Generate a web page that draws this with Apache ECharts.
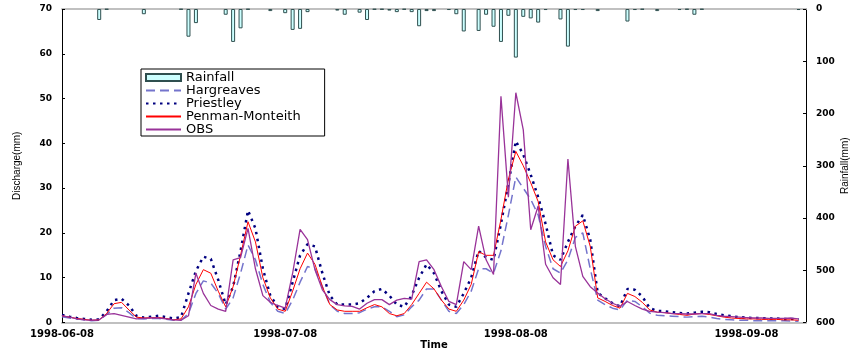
<!DOCTYPE html>
<html>
<head>
<meta charset="utf-8">
<script src="https://cdn.jsdelivr.net/npm/echarts@6/dist/echarts.min.js"></script>
<style>
  html, body { margin: 0; padding: 0; background: #fff; }
  #chart { width: 851px; height: 353px; }
</style>
</head>
<body>
<div id="chart"></div>
<script>
// Daily dates, 1998-06-08 .. 1998-09-16
const startDate = '1998-06-08';
const dayCount = 101;
const tickDates = ['1998-06-08', '1998-07-08', '1998-08-08', '1998-09-08'];

// Rainfall (mm) by day index
const rainfall = [
  0, 0, 0, 0, 0, 21, 1, 0, 0, 0,
  0, 10, 0, 0, 0, 0, 1, 53, 27, 0,
  0, 0, 11, 63, 37, 1, 0, 0, 4, 0,
  8, 40, 38, 6, 0, 0, 0, 3, 11, 0,
  7, 21, 1, 1, 3, 6, 1, 6, 33, 4,
  4, 0, 2, 10, 43, 0, 42, 11, 34, 63,
  13, 93, 15, 18, 26, 2, 0, 20, 72, 2,
  2, 0, 4, 0, 0, 0, 24, 2, 1, 0,
  4, 0, 0, 2, 1, 11, 1, 0, 0, 0,
  0, 0, 0, 0, 0, 0, 0, 0, 0, 2,
  0
];

// Discharge (mm)
const hargreaves = [
  1.3, 1.0, 0.8, 0.6, 0.4, 0.5, 1.8, 3.2, 3.3, 2.2,
  0.9, 0.8, 0.9, 0.9, 0.7, 0.5, 0.5, 2.0, 6.5, 9.3,
  8.8, 6.5, 3.0, 5.5, 11, 17.3, 14, 8.5, 4.5, 2.5,
  2.0, 5.0, 9.0, 12.5, 12, 8.0, 4.0, 2.5, 2.0, 2.0,
  2.2, 3.0, 3.5, 3.5, 2.5, 1.3, 1.7, 3.5, 5.0, 7.5,
  7.5, 5.0, 2.5, 2.0, 4.0, 7.0, 12, 12, 11, 16,
  24, 32.5, 30, 27.5, 24, 17, 12, 11, 14, 19,
  20, 12, 5.0, 4.0, 3.2, 2.8, 5.0, 4.7, 3.5, 2.1,
  1.6, 1.5, 1.4, 1.3, 1.2, 1.3, 1.4, 1.2, 0.9, 0.7,
  0.6, 0.5, 0.5, 0.4, 0.4, 0.4, 0.4, 0.4, 0.3, 0.3
];
const priestley = [
  1.7, 1.3, 1.0, 0.8, 0.6, 0.7, 2.5, 5.0, 5.3, 3.8,
  1.5, 1.1, 1.3, 1.5, 1.2, 0.9, 1.2, 6.5, 11.5, 14.7,
  14.2, 9.5, 4.0, 8.0, 16, 25, 21, 12, 6.0, 3.5,
  3.0, 9.0, 15, 17.5, 17, 11, 6.0, 4.0, 4.0, 4.0,
  4.3, 5.5, 7.0, 7.5, 6.0, 4.0, 3.5, 6.0, 10, 13,
  11, 7.0, 4.0, 3.5, 6.5, 10, 16, 14.5, 14, 22,
  31, 40.5, 37.5, 33, 28, 22, 15, 14, 18, 21.5,
  24, 18.5, 6.6, 5.4, 4.3, 3.6, 7.5, 7.3, 5.8, 3.2,
  2.6, 2.5, 2.3, 2.1, 2.0, 2.2, 2.4, 2.3, 1.9, 1.6,
  1.4, 1.2, 1.1, 1.0, 1.0, 0.9, 0.9, 0.8, 0.8, 0.7
];
const penmanMonteith = [
  1.5, 1.2, 0.9, 0.7, 0.5, 0.6, 2.0, 4.2, 4.5, 2.8,
  1.2, 1.0, 1.1, 1.1, 0.9, 0.6, 0.8, 3.5, 8.5, 11.8,
  11, 7.0, 3.5, 8.0, 15, 22.5, 18, 10, 5.5, 3.0,
  2.5, 7.0, 12, 15.5, 13, 8.0, 4.0, 2.8, 2.5, 2.5,
  2.5, 3.3, 4.0, 3.5, 2.0, 1.5, 2.0, 4.0, 6.5, 9.0,
  7.5, 5.0, 3.0, 2.5, 5.0, 8.5, 15.8, 15, 15, 23,
  32, 38.2, 35, 31.2, 27, 18, 14, 12.5, 16, 21.5,
  22.7, 17, 5.5, 4.7, 3.8, 3.2, 6.5, 5.8, 4.5, 2.8,
  2.3, 2.2, 2.0, 1.8, 1.6, 1.9, 2.0, 1.8, 1.5, 1.2,
  1.0, 0.9, 0.8, 0.8, 0.7, 0.7, 0.7, 0.6, 0.6, 0.5
];
const obs = [
  1.5, 1.2, 0.8, 0.6, 0.5, 0.6, 1.8, 2.0, 1.6, 1.2,
  0.8, 0.9, 1.0, 1.0, 0.8, 0.6, 0.5, 1.5, 11, 6.5,
  3.8, 3.0, 2.5, 14, 14.5, 21, 12, 6.0, 4.5, 3.8,
  3.2, 11, 20.8, 18.5, 11.8, 7.3, 5.1, 4.0, 3.7, 3.6,
  3.0, 4.3, 5.1, 5.1, 4.0, 5.0, 5.4, 5.2, 13.6, 14,
  11.8, 8.0, 4.7, 4.0, 13.6, 11.8, 21.5, 14, 10.7, 50.5,
  28, 51.3, 43, 20.7, 26, 13, 10, 8.5, 36.5, 17,
  10.3, 8.0, 6.6, 5.3, 4.3, 3.6, 4.7, 3.8, 3.0, 2.5,
  2.3, 2.2, 2.0, 2.0, 1.9, 1.9, 2.0, 2.0, 1.6, 1.4,
  1.3, 1.2, 1.1, 1.0, 1.0, 0.9, 0.9, 0.9, 1.0, 0.8
];

// build category labels
const dates = [];
const d0 = new Date(startDate + 'T00:00:00Z');
for (let i = 0; i < dayCount; i++) {
  const d = new Date(d0.getTime() + i * 86400000);
  dates.push(d.toISOString().slice(0, 10));
}

const boldLabel = { fontFamily: 'DejaVu Sans', fontWeight: 'bold', fontSize: 9, color: '#000' };
const noSymbol = { opacity: 0 };

const option = {
  animation: false,
  backgroundColor: '#fff',
  grid: { left: 62, right: 45, top: 9, bottom: 30.5, containLabel: false, outerBoundsMode: 'none' },
  legend: {
    orient: 'vertical',
    left: 141,
    top: 69,
    padding: [2, 24, 0, 4],
    itemGap: 0,
    itemWidth: 35,
    itemHeight: 7,
    backgroundColor: '#fff',
    borderColor: '#000',
    borderWidth: 1,
    textStyle: { fontFamily: 'DejaVu Sans', fontSize: 13, lineHeight: 13, color: '#000' },
    data: [
      { name: 'Rainfall', icon: 'rect' },
      { name: 'Hargreaves', itemStyle: noSymbol },
      { name: 'Priestley', itemStyle: noSymbol },
      { name: 'Penman-Monteith', itemStyle: noSymbol },
      { name: 'OBS', itemStyle: noSymbol }
    ]
  },
  xAxis: [{
    type: 'category',
    data: dates,
    boundaryGap: false,
    name: 'Time',
    nameLocation: 'middle',
    nameGap: 18,
    nameMoveOverlap: false,
    nameTextStyle: { fontFamily: 'DejaVu Sans', fontWeight: 'bold', fontSize: 10, color: '#000' },
    axisLine: { lineStyle: { color: '#c0c0c0', width: 2 } },
    axisTick: { show: false },
    axisLabel: {
      interval: (idx, val) => tickDates.includes(val),
      fontFamily: 'DejaVu Sans', fontWeight: 'bold', fontSize: 10, color: '#000', margin: 7
    },
    splitLine: { show: false }
  }, {
    type: 'category',
    data: dates,
    boundaryGap: false,
    position: 'top',
    axisLine: { lineStyle: { color: '#c0c0c0', width: 2 } },
    axisTick: { show: false },
    axisLabel: { show: false },
    splitLine: { show: false }
  }],
  yAxis: [{
    type: 'value',
    min: 0, max: 70, interval: 10,
    name: 'Discharge(mm)',
    nameLocation: 'middle',
    nameGap: 40,
    nameMoveOverlap: false,
    nameTextStyle: { fontFamily: 'Liberation Sans Narrow, Liberation Sans', fontSize: 10, color: '#000' },
    axisLine: { show: true, lineStyle: { color: '#000', width: 1 } },
    axisTick: { show: true, inside: true, length: 3, lineStyle: { color: '#000' } },
    axisLabel: Object.assign({ margin: 10 }, boldLabel),
    splitLine: { show: false }
  }, {
    type: 'value',
    min: 0, max: 600, interval: 100,
    inverse: true,
    position: 'right',
    name: 'Rainfall(mm)',
    nameLocation: 'middle',
    nameGap: 34,
    nameMoveOverlap: false,
    nameTextStyle: { fontFamily: 'Liberation Sans Narrow, Liberation Sans', fontSize: 10, color: '#000' },
    axisLine: { show: true, lineStyle: { color: '#000', width: 1 } },
    axisTick: { show: true, inside: true, length: 3, lineStyle: { color: '#000' } },
    axisLabel: Object.assign({ margin: 10 }, boldLabel),
    splitLine: { show: false }
  }],
  series: [
    {
      name: 'Rainfall',
      type: 'bar',
      yAxisIndex: 1,
      data: rainfall.map(v => (v > 0 ? v : null)),
      barWidth: 4,
      itemStyle: { color: '#ccffff', borderColor: '#2f4f4f', borderWidth: 1 }
    },
    {
      name: 'Hargreaves',
      type: 'line',
      data: hargreaves,
      symbol: 'none',
      lineStyle: { color: '#7474cc', width: 1.5, type: [9, 5] },
      itemStyle: { color: '#7474cc' }
    },
    {
      name: 'Priestley',
      type: 'line',
      data: priestley,
      symbol: 'none',
      lineStyle: { color: '#000080', width: 2.5, type: [2.5, 4.5] },
      itemStyle: { color: '#000080' }
    },
    {
      name: 'Penman-Monteith',
      type: 'line',
      data: penmanMonteith,
      symbol: 'none',
      lineStyle: { color: '#ff0000', width: 1 },
      itemStyle: { color: '#ff0000' }
    },
    {
      name: 'OBS',
      type: 'line',
      data: obs,
      symbol: 'none',
      lineStyle: { color: '#993399', width: 1.3 },
      itemStyle: { color: '#993399' }
    }
  ]
};

const chart = echarts.init(document.getElementById('chart'));
chart.setOption(option);
</script>
</body>
</html>
